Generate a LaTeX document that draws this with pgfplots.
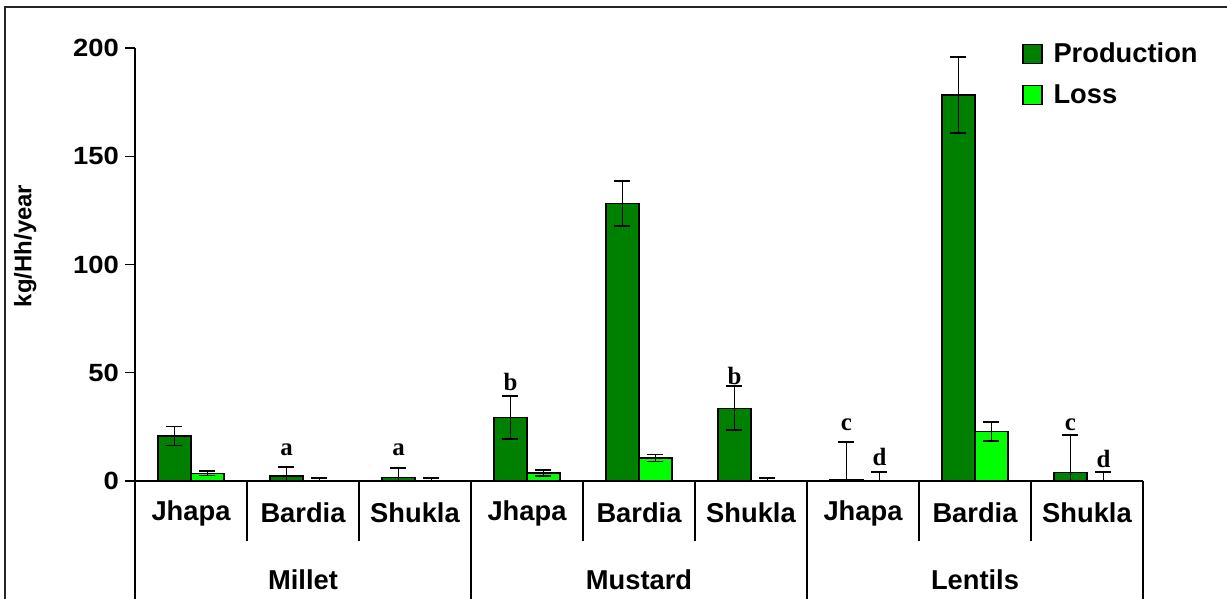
\documentclass[border=0pt]{standalone}
\usepackage{fontspec}
\setmainfont{Liberation Sans}
\newfontfamily\seriffont{Liberation Serif}
\usepackage{graphicx}
\usepackage{pgfplots}
\pgfplotsset{compat=1.18}
\usepackage{pgfplotstable}

\definecolor{prod}{RGB}{0,128,0}
\definecolor{loss}{RGB}{0,255,0}

\pgfplotstableread{
x y err
0 20.8 4.4
1 2.3 4.3
2 1.5 4.4
3 29.3 10.0
4 128.3 10.4
5 33.6 10.2
6 0.8 17.2
7 178.3 17.7
8 3.8 17.6
}\prodtable

\pgfplotstableread{
x y err
0 3.5 1.0
1 0 1.5
2 0 1.5
3 3.7 1.3
4 10.6 1.6
5 0 1.5
6 0 4.3
7 22.8 4.3
8 0 4.3
}\losstable

\newcommand{\catfont}{\bfseries\fontsize{13.7}{15}\selectfont}
\newcommand{\letfont}{\seriffont\bfseries\fontsize{12.5}{14}\selectfont}

\begin{document}
\begin{tikzpicture}
\begin{axis}[
  scale only axis,
  width=504bp, height=216.5bp,
  xmin=-0.5, xmax=8.5, ymin=0, ymax=200,
  ybar=0pt, bar width=16.5bp,
  axis x line*=bottom, axis y line*=left,
  axis line style={black, line width=0.6pt},
  xtick=\empty,
  ytick={0,50,100,150,200},
  tick align=outside, major tick length=5bp,
  ytick style={black, line width=0.6pt},
  /pgf/number format/assume math mode=true,
  yticklabel={\scalebox{1.1}[1]{\pgfmathprintnumber{\tick}}},
  y tick label style={font=\bfseries\fontsize{12.5}{14}\selectfont, xshift=0.5bp},
  ylabel={kg/Hh/year},
  ylabel style={font=\bfseries\fontsize{12}{14}\selectfont, at={(axis description cs:-0.109,0.543)}, anchor=center},
  clip mode=individual,
  legend style={at={(axis description cs:0.874,1.0315)}, anchor=north west, draw=none, fill=none,
    font=\bfseries\fontsize{13.7}{15}\selectfont, row sep=5.5bp},
  legend cell align=left,
  legend image code/.code={\draw[#1] (0bp,-4.75bp) rectangle (9.5bp,4.75bp); \path (13bp,0bp);},
  error bars/y dir=both,
  error bars/y explicit,
  error bars/error bar style={black, line width=0.9pt},
  error bars/error mark options={black, rotate=90, mark size=4bp, line width=0.9pt},
]
\addplot[fill=prod, draw=black, line width=0.6pt] table[x=x, y=y, y error=err] {\prodtable};
\addlegendentry{Production}
\addplot[fill=loss, draw=black, line width=0.6pt] table[x=x, y=y, y error=err] {\losstable};
\addlegendentry{Loss}

% significance letters
\node[font=\letfont, xshift=-8.25bp] at (axis cs:1,14.3) {a};
\node[font=\letfont, xshift=-8.25bp] at (axis cs:2,14.3) {a};
\node[font=\letfont, xshift=-8.25bp] at (axis cs:3,45.7) {b};
\node[font=\letfont, xshift=-8.25bp] at (axis cs:5,48.5) {b};
\node[font=\letfont, xshift=-8.25bp] at (axis cs:6,25.9) {c};
\node[font=\letfont, xshift=8.25bp] at (axis cs:6,10.9) {d};
\node[font=\letfont, xshift=-8.25bp] at (axis cs:8,25.9) {c};
\node[font=\letfont, xshift=8.25bp] at (axis cs:8,10.2) {d};

% separators
\pgfplotsinvokeforeach{0.5,1.5,3.5,4.5,6.5,7.5}{
  \draw[black, line width=0.6pt] (axis cs:#1,0) -- ++(0pt,-30bp);
}
\pgfplotsinvokeforeach{-0.5,2.5,5.5,8.5}{
  \draw[black, line width=0.6pt] (axis cs:#1,0) -- ++(0pt,-70bp);
}
% category labels
\node[font=\catfont, yshift=-16bp] at (axis cs:0,0) {Jhapa};
\node[font=\catfont, yshift=-16bp] at (axis cs:1,0) {Bardia};
\node[font=\catfont, yshift=-16bp] at (axis cs:2,0) {Shukla};
\node[font=\catfont, yshift=-16bp] at (axis cs:3,0) {Jhapa};
\node[font=\catfont, yshift=-16bp] at (axis cs:4,0) {Bardia};
\node[font=\catfont, yshift=-16bp] at (axis cs:5,0) {Shukla};
\node[font=\catfont, yshift=-16bp] at (axis cs:6,0) {Jhapa};
\node[font=\catfont, yshift=-16bp] at (axis cs:7,0) {Bardia};
\node[font=\catfont, yshift=-16bp] at (axis cs:8,0) {Shukla};
\node[font=\catfont, yshift=-49.5bp] at (axis cs:1,0) {Millet};
\node[font=\catfont, yshift=-49.5bp] at (axis cs:4,0) {Mustard};
\node[font=\catfont, yshift=-49.5bp] at (axis cs:7,0) {Lentils};
\end{axis}
\draw[black!85, line width=0.6pt] (-65bp,-80bp) -- (-65bp,237bp) -- (560bp,237bp);
\pgfresetboundingbox
\useasboundingbox (-67.5bp,-59bp) rectangle (546bp,240.5bp);
\end{tikzpicture}
\end{document}
